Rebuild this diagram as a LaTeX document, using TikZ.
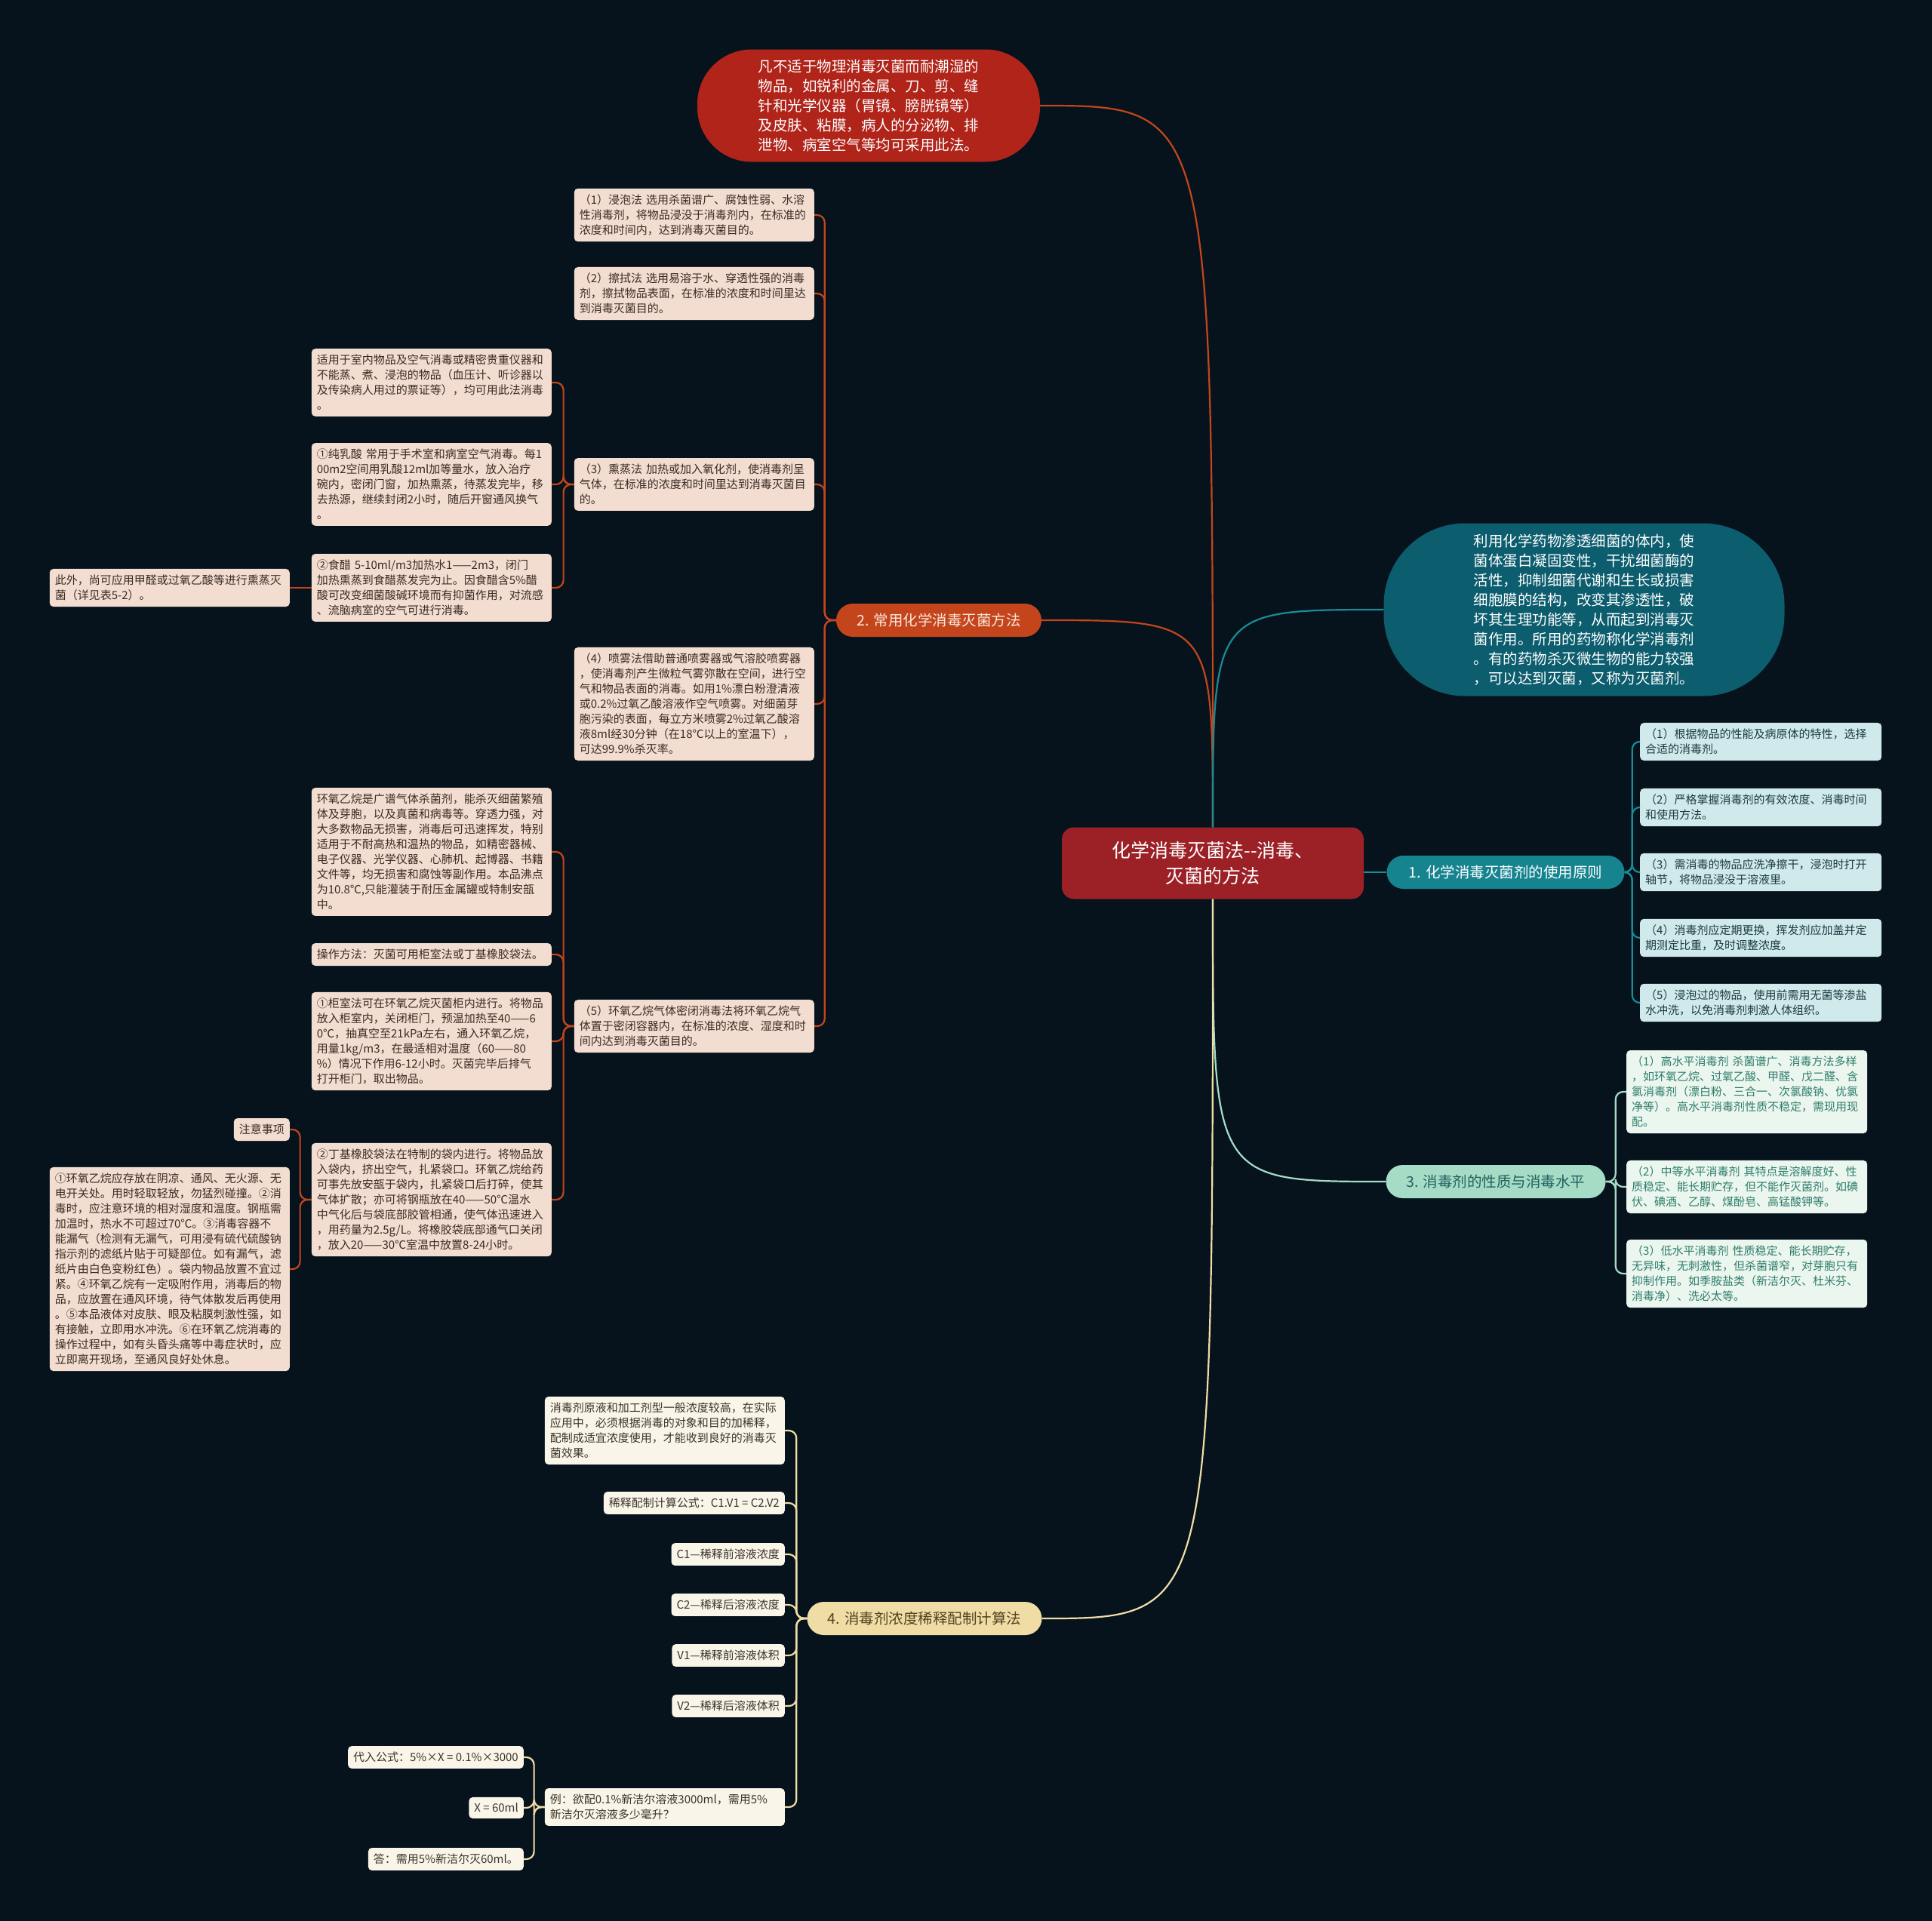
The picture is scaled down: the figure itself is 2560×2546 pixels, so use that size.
\documentclass[tikz,border=0pt]{standalone}
\usepackage{fontspec}
\setmainfont{Noto Sans CJK SC}
\definecolor{bgc}{HTML}{06131C}
\definecolor{cenf}{HTML}{9C2127}
\definecolor{redf}{HTML}{B0241A}
\definecolor{orf}{HTML}{C4451C}
\definecolor{orl}{HTML}{C4451C}
\definecolor{orbt}{HTML}{FBE8DC}
\definecolor{orleaf}{HTML}{F2DDD0}
\definecolor{ortx}{HTML}{3B2B24}
\definecolor{tpf}{HTML}{0C5D6E}
\definecolor{tbf}{HTML}{15848F}
\definecolor{tll}{HTML}{1B8B95}
\definecolor{tleaf}{HTML}{D0E9EB}
\definecolor{ttx}{HTML}{1A3C42}
\definecolor{gbf}{HTML}{A6DCC6}
\definecolor{gbtx}{HTML}{22605F}
\definecolor{gleaf}{HTML}{EBF6EF}
\definecolor{gtx}{HTML}{2E7D6B}
\definecolor{ybf}{HTML}{F0DDA6}
\definecolor{ybtx}{HTML}{4F4220}
\definecolor{yleaf}{HTML}{FAF5E9}
\definecolor{ytx}{HTML}{3A342A}
\tikzset{
  leaf/.style={rounded corners=5pt, inner xsep=7pt, inner ysep=8pt, font=\fontsize{15}{20}\selectfont, align=left},
  oleaf/.style={leaf, fill=orleaf, text=ortx, text width=304pt},
  oleafs/.style={leaf, fill=orleaf, text=ortx},
  tleafn/.style={leaf, fill=tleaf, text=ttx, text width=306pt},
  gleafn/.style={leaf, fill=gleaf, text=gtx, text width=305pt},
  yleafn/.style={leaf, fill=yleaf, text=ytx, text width=304pt},
  yleafs/.style={leaf, fill=yleaf, text=ytx},
  branch/.style={rounded corners=22pt, minimum height=44pt, inner sep=0pt, font=\fontsize{19.5}{24}\selectfont, align=center},
  pill/.style={inner sep=0pt, font=\fontsize{19.5}{26}\selectfont, align=left, text=white},
  oline/.style={draw=orl, line width=2.2pt, rounded corners=10pt},
  tline/.style={draw=tll, line width=2.2pt, rounded corners=10pt},
  gline/.style={draw=gbf, line width=2.2pt, rounded corners=10pt},
  yline/.style={draw=ybf, line width=2.2pt, rounded corners=10pt},
}
\begin{document}
\begin{tikzpicture}[x=1pt,y=-1pt]
\fill[bgc] (0,0) rectangle (2560,2546);
\useasboundingbox (0,0) rectangle (2560,2546);

% ---------- main nodes ----------
\node[fill=cenf, rounded corners=16pt, minimum width=400pt, minimum height=95pt, inner sep=0pt,
      font=\fontsize{25}{34}\selectfont, align=center, text=white] (c) at (1607,1144)
  {化学消毒灭菌法-{}-消毒、\\灭菌的方法};

\node[pill, fill=redf, rounded corners=72pt, minimum width=454pt, minimum height=149pt] (top) at (1151,140)
  {凡不适于物理消毒灭菌而耐潮湿的\\物品，如锐利的金属、刀、剪、缝\\针和光学仪器（胃镜、膀胱镜等）\\及皮肤、粘膜，病人的分泌物、排\\泄物、病室空气等均可采用此法。};

\node[pill, fill=tpf, rounded corners=108pt, minimum width=531pt, minimum height=229pt] (tp) at (2099,808)
  {利用化学药物渗透细菌的体内，使\\菌体蛋白凝固变性，干扰细菌酶的\\活性，抑制细菌代谢和生长或损害\\细胞膜的结构，改变其渗透性，破\\坏其生理功能等，从而起到消毒灭\\菌作用。所用的药物称化学消毒剂\\。有的药物杀灭微生物的能力较强\\，可以达到灭菌，又称为灭菌剂。};

\node[branch, fill=orf, text=orbt, minimum width=272pt] (b2) at (1244,822) {2. 常用化学消毒灭菌方法};
\node[branch, fill=tbf, text=white, minimum width=315pt] (b1) at (1995,1156) {1. 化学消毒灭菌剂的使用原则};
\node[branch, fill=gbf, text=gbtx, minimum width=291pt] (b3) at (1982,1566) {3. 消毒剂的性质与消毒水平};
\node[branch, fill=ybf, text=ybtx, minimum width=311pt] (b4) at (1225,2145) {4. 消毒剂浓度稀释配制计算法};

% ---------- branch 2 leaves ----------
\node[oleaf, anchor=east] (o1) at (1079,285)
  {（1）浸泡法 选用杀菌谱广、腐蚀性弱、水溶\\性消毒剂，将物品浸没于消毒剂内，在标准的\\浓度和时间内，达到消毒灭菌目的。};
\node[oleaf, anchor=east] (o2) at (1079,389)
  {（2）擦拭法 选用易溶于水、穿透性强的消毒\\剂，擦拭物品表面，在标准的浓度和时间里达\\到消毒灭菌目的。};
\node[oleaf, anchor=east] (o3) at (1079,642)
  {（3）熏蒸法 加热或加入氧化剂，使消毒剂呈\\气体，在标准的浓度和时间里达到消毒灭菌目\\的。};
\node[oleaf, anchor=east] (o4) at (1079,933)
  {（4）喷雾法借助普通喷雾器或气溶胶喷雾器\\，使消毒剂产生微粒气雾弥散在空间，进行空\\气和物品表面的消毒。如用1\%漂白粉澄清液\\或0.2\%过氧乙酸溶液作空气喷雾。对细菌芽\\胞污染的表面，每立方米喷雾2\%过氧乙酸溶\\液8ml经30分钟（在18℃以上的室温下），\\可达99.9\%杀灭率。};
\node[oleaf, anchor=east] (o5) at (1079,1360)
  {（5）环氧乙烷气体密闭消毒法将环氧乙烷气\\体置于密闭容器内，在标准的浓度、湿度和时\\间内达到消毒灭菌目的。};

\node[oleaf, anchor=east] (l31) at (731,507)
  {适用于室内物品及空气消毒或精密贵重仪器和\\不能蒸、煮、浸泡的物品（血压计、听诊器以\\及传染病人用过的票证等），均可用此法消毒\\。};
\node[oleaf, anchor=east] (l32) at (731,642)
  {①纯乳酸 常用于手术室和病室空气消毒。每1\\00m2空间用乳酸12ml加等量水，放入治疗\\碗内，密闭门窗，加热熏蒸，待蒸发完毕，移\\去热源，继续封闭2小时，随后开窗通风换气\\。};
\node[oleaf, anchor=east] (l33) at (731,779)
  {②食醋 5-10ml/m3加热水1——2m3，闭门\\加热熏蒸到食醋蒸发完为止。因食醋含5\%醋\\酸可改变细菌酸碱环境而有抑菌作用，对流感\\、流脑病室的空气可进行消毒。};
\node[oleaf, anchor=east] (l34) at (384,779)
  {此外，尚可应用甲醛或过氧乙酸等进行熏蒸灭\\菌（详见表5-2）。};

\node[oleaf, anchor=east] (l51) at (731,1129)
  {环氧乙烷是广谱气体杀菌剂，能杀灭细菌繁殖\\体及芽胞，以及真菌和病毒等。穿透力强，对\\大多数物品无损害，消毒后可迅速挥发，特别\\适用于不耐高热和温热的物品，如精密器械、\\电子仪器、光学仪器、心肺机、起博器、书籍\\文件等，均无损害和腐蚀等副作用。本品沸点\\为10.8℃,只能灌装于耐压金属罐或特制安瓿\\中。};
\node[oleaf, anchor=east] (l52) at (731,1265)
  {操作方法：灭菌可用柜室法或丁基橡胶袋法。};
\node[oleaf, anchor=east] (l53) at (731,1380)
  {①柜室法可在环氧乙烷灭菌柜内进行。将物品\\放入柜室内，关闭柜门，预温加热至40——6\\0℃，抽真空至21kPa左右，通入环氧乙烷，\\用量1kg/m3，在最适相对温度（60——80\\\%）情况下作用6-12小时。灭菌完毕后排气\\打开柜门，取出物品。};
\node[oleaf, anchor=east] (l54) at (731,1590)
  {②丁基橡胶袋法在特制的袋内进行。将物品放\\入袋内，挤出空气，扎紧袋口。环氧乙烷给药\\可事先放安瓿于袋内，扎紧袋口后打碎，使其\\气体扩散；亦可将钢瓶放在40——50℃温水\\中气化后与袋底部胶管相通，使气体迅速进入\\，用药量为2.5g/L。将橡胶袋底部通气口关闭\\，放入20——30℃室温中放置8-24小时。};
\node[oleafs, anchor=east] (zy) at (384,1497) {注意事项};
\node[oleaf, anchor=east] (note) at (384,1682)
  {①环氧乙烷应存放在阴凉、通风、无火源、无\\电开关处。用时轻取轻放，勿猛烈碰撞。②消\\毒时，应注意环境的相对湿度和温度。钢瓶需\\加温时，热水不可超过70℃。③消毒容器不\\能漏气（检测有无漏气，可用浸有硫代硫酸钠\\指示剂的滤纸片贴于可疑部位。如有漏气，滤\\纸片由白色变粉红色）。袋内物品放置不宜过\\紧。④环氧乙烷有一定吸附作用，消毒后的物\\品，应放置在通风环境，待气体散发后再使用\\。⑤本品液体对皮肤、眼及粘膜刺激性强，如\\有接触，立即用水冲洗。⑥在环氧乙烷消毒的\\操作过程中，如有头昏头痛等中毒症状时，应\\立即离开现场，至通风良好处休息。};

% ---------- branch 1 leaves ----------
\node[tleafn, anchor=west] (t1) at (2173,983) {（1）根据物品的性能及病原体的特性，选择\\合适的消毒剂。};
\node[tleafn, anchor=west] (t2) at (2173,1070) {（2）严格掌握消毒剂的有效浓度、消毒时间\\和使用方法。};
\node[tleafn, anchor=west] (t3) at (2173,1156) {（3）需消毒的物品应洗净擦干，浸泡时打开\\轴节，将物品浸没于溶液里。};
\node[tleafn, anchor=west] (t4) at (2173,1243) {（4）消毒剂应定期更换，挥发剂应加盖并定\\期测定比重，及时调整浓度。};
\node[tleafn, anchor=west] (t5) at (2173,1329) {（5）浸泡过的物品，使用前需用无菌等渗盐\\水冲洗，以免消毒剂刺激人体组织。};

% ---------- branch 3 leaves ----------
\node[gleafn, anchor=west] (g1) at (2155,1447)
  {（1）高水平消毒剂 杀菌谱广、消毒方法多样\\，如环氧乙烷、过氧乙酸、甲醛、戊二醛、含\\氯消毒剂（漂白粉、三合一、次氯酸钠、优氯\\净等）。高水平消毒剂性质不稳定，需现用现\\配。};
\node[gleafn, anchor=west] (g2) at (2155,1573)
  {（2）中等水平消毒剂 其特点是溶解度好、性\\质稳定、能长期贮存，但不能作灭菌剂。如碘\\伏、碘酒、乙醇、煤酚皂、高锰酸钾等。};
\node[gleafn, anchor=west] (g3) at (2155,1688)
  {（3）低水平消毒剂 性质稳定、能长期贮存，\\无异味，无刺激性，但杀菌谱窄，对芽胞只有\\抑制作用。如季胺盐类（新洁尔灭、杜米芬、\\消毒净）、洗必太等。};

% ---------- branch 4 leaves ----------
\node[yleafn, anchor=east] (d1) at (1040,1896)
  {消毒剂原液和加工剂型一般浓度较高，在实际\\应用中，必须根据消毒的对象和目的加稀释，\\配制成适宜浓度使用，才能收到良好的消毒灭\\菌效果。};
\node[yleafs, anchor=east] (d2) at (1040,1992) {稀释配制计算公式：C1.V1 = C2.V2};
\node[yleafs, anchor=east] (d3) at (1040,2060) {C1—稀释前溶液浓度};
\node[yleafs, anchor=east] (d4) at (1040,2127) {C2—稀释后溶液浓度};
\node[yleafs, anchor=east] (d5) at (1040,2194) {V1—稀释前溶液体积};
\node[yleafs, anchor=east] (d6) at (1040,2261) {V2—稀释后溶液体积};
\node[yleafn, anchor=east] (d7) at (1040,2395)
  {例：欲配0.1\%新洁尔溶液3000ml，需用5\%\\新洁尔灭溶液多少毫升？};
\node[yleafs, anchor=east] (e1) at (694,2329) {代入公式：5\%×X = 0.1\%×3000};
\node[yleafs, anchor=east] (e2) at (694,2396) {X = 60ml};
\node[yleafs, anchor=east] (e3) at (694,2464) {答：需用5\%新洁尔灭60ml。};

% ---------- main connectors ----------
\draw[orl, line width=2.2pt] (c.north) .. controls (c.north |- top.east) .. (top.east);
\draw[orl, line width=2.2pt] (c.north) .. controls (c.north |- b2.east) .. (b2.east);
\draw[tll, line width=2.2pt] (c.north) .. controls (c.north |- tp.west) .. (tp.west);
\draw[tll, line width=2.2pt] (c.east |- b1.west) -- (b1.west);
\draw[gbf, line width=2.2pt] (c.south) .. controls (c.south |- b3.west) .. (b3.west);
\draw[ybf, line width=2.2pt] (c.south) .. controls (c.south |- b4.east) .. (b4.east);

% ---------- brackets ----------
\foreach \n in {o1,o2,o3,o4,o5} \draw[oline] (b2.west) -- ++(-15,0) |- (\n.east);
\foreach \n in {l31,l32,l33} \draw[oline] (o3.west) -- ++(-14,0) |- (\n.east);
\draw[oline] (l33.west) -- (l34.east);
\foreach \n in {l51,l52,l53,l54} \draw[oline] (o5.west) -- ++(-14,0) |- (\n.east);
\foreach \n in {zy,note} \draw[oline] (l54.west) -- ++(-15,0) |- (\n.east);
\foreach \n in {t1,t2,t3,t4,t5} \draw[tline] (b1.east) -- ++(10,0) |- (\n.west);
\foreach \n in {g1,g2,g3} \draw[gline] (b3.east) -- ++(13,0) |- (\n.west);
\foreach \n in {d1,d2,d3,d4,d5,d6,d7} \draw[yline] (b4.west) -- ++(-14,0) |- (\n.east);
\foreach \n in {e1,e2,e3} \draw[yline] (d7.west) -- ++(-14,0) |- (\n.east);
\end{tikzpicture}
\end{document}
